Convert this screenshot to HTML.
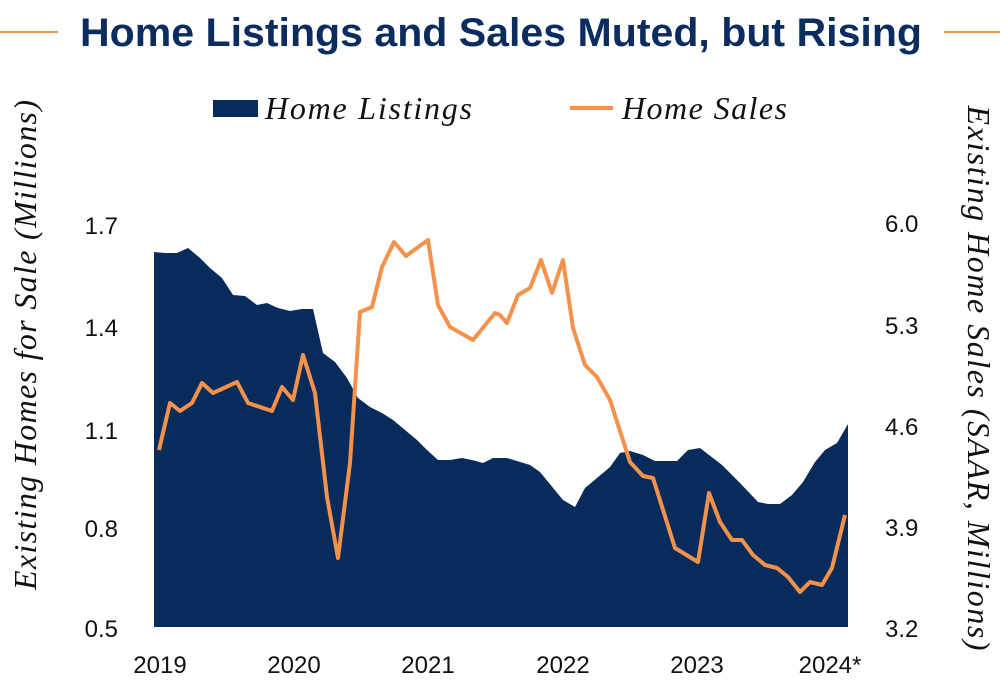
<!DOCTYPE html>
<html><head><meta charset="utf-8"><style>
body{margin:0;background:#fff;width:1000px;height:683px;overflow:hidden}
svg text{font-family:"Liberation Sans",sans-serif}
.s{font-family:"Liberation Serif",serif;font-style:italic}
</style></head><body>
<svg width="1000" height="683" viewBox="0 0 1000 683">
<line x1="0" y1="32" x2="58" y2="32" stroke="#f4914a" stroke-width="2"/>
<line x1="944" y1="32" x2="1000" y2="32" stroke="#f4914a" stroke-width="2"/>
<text x="80" y="46" textLength="842" lengthAdjust="spacingAndGlyphs" font-size="40" font-weight="bold" fill="#0b2c5e">Home Listings and Sales Muted, but Rising</text>
<rect x="213" y="100" width="45" height="17" fill="#072c5c"/>
<text class="s" x="265" y="119" textLength="207" font-size="32" fill="#111">Home Listings</text>
<line x1="570" y1="108" x2="613" y2="108" stroke="#f4914a" stroke-width="4"/>
<text class="s" x="622" y="119" textLength="165" font-size="32" fill="#111">Home Sales</text>
<text class="s" transform="translate(36,345) rotate(-90)" text-anchor="middle" textLength="490" font-size="32" fill="#111">Existing Homes for Sale (Millions)</text>
<text class="s" transform="translate(968,378) rotate(90)" text-anchor="middle" textLength="545" font-size="32" fill="#111">Existing Home Sales (SAAR, Millions)</text>
<g font-size="24" fill="#111" text-anchor="end">
<text x="118" y="234">1.7</text><text x="118" y="336">1.4</text><text x="118" y="439">1.1</text><text x="118" y="537">0.8</text><text x="118" y="637">0.5</text>
</g>
<g font-size="24" fill="#111">
<text x="885" y="232">6.0</text><text x="885" y="334">5.3</text><text x="885" y="435">4.6</text><text x="885" y="536">3.9</text><text x="885" y="637">3.2</text>
</g>
<g font-size="24" fill="#111" text-anchor="middle">
<text x="160" y="673">2019</text><text x="294" y="673">2020</text><text x="428" y="673">2021</text><text x="563" y="673">2022</text><text x="697" y="673">2023</text><text x="830" y="673">2024*</text>
</g>
<polygon fill="#072c5c" points="154,627 154,252 165,253 177,253 188,248 200,258 210,268 222,278 233,295 245,296 257,305 267,303 278,308 290,311 302,309 313,309 323,353 335,362 347,378 358,398 370,407 382,413 393,420 405,430 417,440 427,450 438,460 450,460 462,458 472,460 483,463 493,458 507,458 530,465 540,472 563,500 575,507 585,488 597,478 610,467 620,453 630,451 643,455 655,461 677,461 688,450 700,448 722,465 740,483 758,502 768,504 780,504 792,495 803,482 815,462 825,450 837,443 848,424 848,627"/>
<polyline fill="none" stroke="#f4914a" stroke-width="4" stroke-linejoin="round" points="159,450 170,403 180,411 192,403 202,383 213,393 237,382 248,403 272,411 282,387 293,400 303,355 315,393 327,497 338,558 350,463 360,312 372,307 382,267 394,242 406,256 428,240 438,305 450,327 473,340 495,313 500,315 507,323 518,295 530,288 541,260 552,293 563,260 573,328 585,365 597,377 610,400 630,462 643,476 653,478 675,548 698,562 709,493 720,522 732,540 742,540 753,555 765,565 777,568 788,577 800,592 810,582 822,585 832,568 845,515"/>
</svg>
</body></html>
